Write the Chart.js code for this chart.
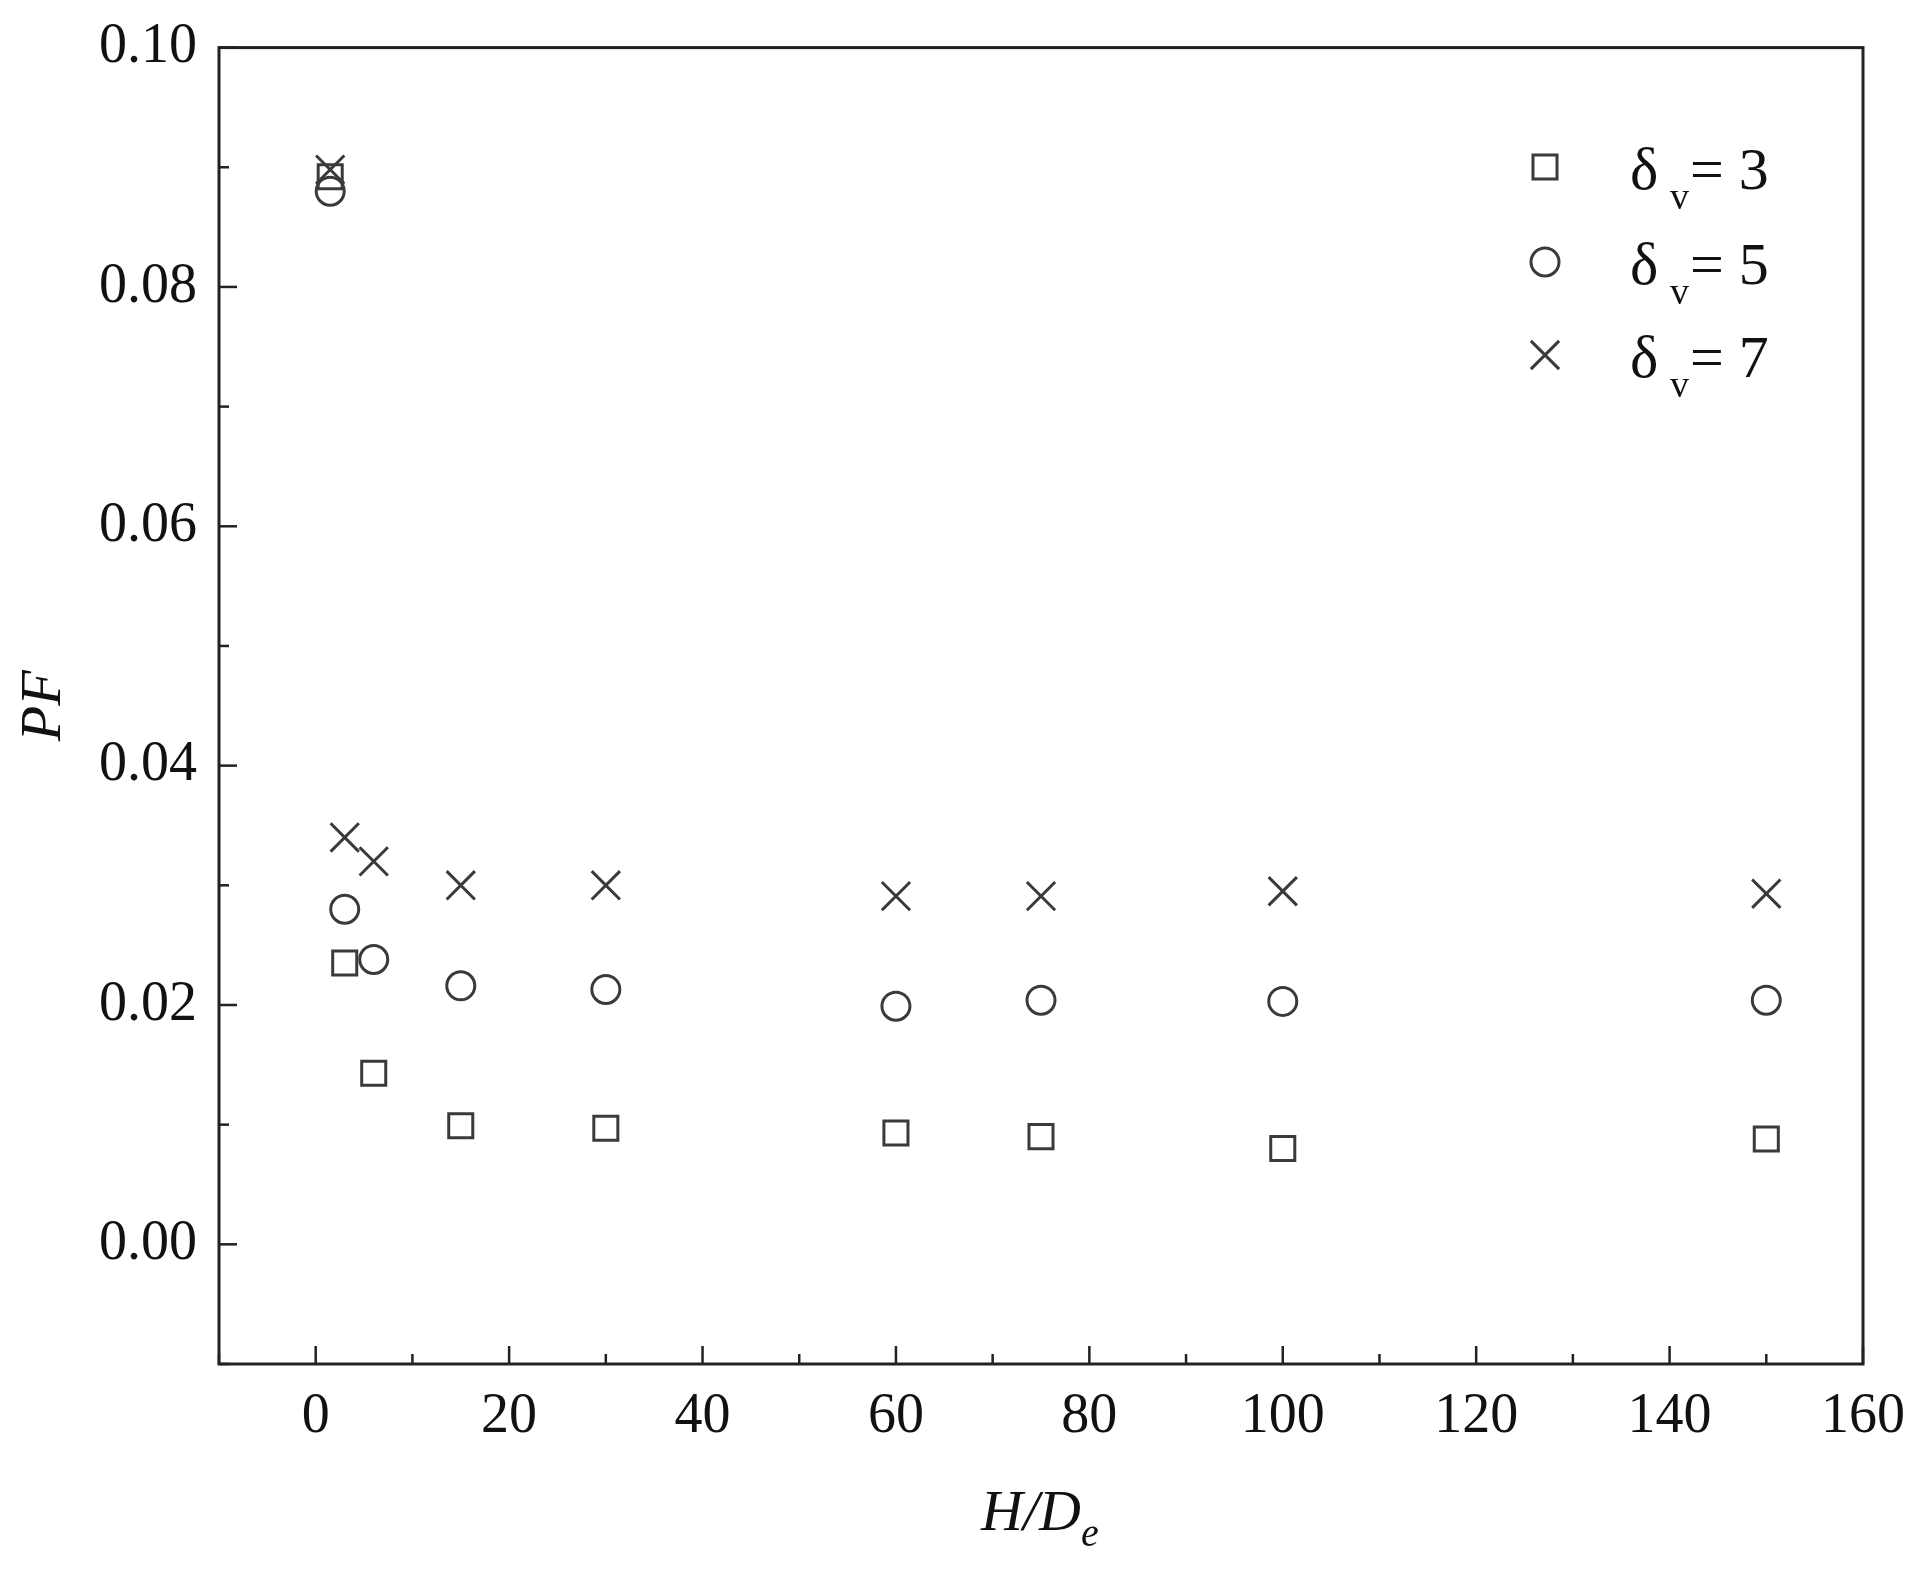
<!DOCTYPE html>
<html><head><meta charset="utf-8">
<script src="https://cdn.jsdelivr.net/npm/chart.js@4/dist/chart.umd.min.js"></script>
<style>html,body{margin:0;padding:0;background:#fff}#c{display:block}</style>
</head><body>
<canvas id="c" width="1917" height="1575"></canvas>
<script>
'use strict';
const hd = [1.5, 3, 6, 15, 30, 60, 75, 100, 150];
const pfD3 = [0.0892, 0.0235, 0.0143, 0.0099, 0.0097, 0.0093, 0.0090, 0.0080, 0.0088];
const pfD5 = [0.0880, 0.0280, 0.0238, 0.0216, 0.0213, 0.0199, 0.0204, 0.0203, 0.0204];
const pfD7 = [0.0898, 0.0340, 0.0320, 0.0300, 0.0300, 0.0291, 0.0291, 0.0295, 0.0293];
const legendNums = ['3', '5', '7'];
const ink = '#3a3a3a';
const serif = '"Liberation Serif", "DejaVu Serif", serif';

const pts = (ys) => hd.map((x, i) => ({x: x, y: ys[i]}));
const series = [
  {data: pts(pfD3), pointStyle: 'rect', pointRadius: 17},
  {data: pts(pfD5), pointStyle: 'circle', pointRadius: 14},
  {data: pts(pfD7), pointStyle: 'crossRot', pointRadius: 20}
].map(s => Object.assign(s, {showLine: false, borderColor: ink, backgroundColor: 'transparent', pointBorderWidth: 3}));

// ticks inward, frame, axis titles, legend
const decor = {
  id: 'decor',
  afterDraw(chart) {
    const ctx = chart.ctx, a = chart.chartArea, xs = chart.scales.x, ys = chart.scales.y;
    ctx.save();
    ctx.strokeStyle = '#222'; ctx.lineWidth = 3;
    ctx.strokeRect(a.left, a.top, a.right - a.left, a.bottom - a.top);
    ctx.lineWidth = 2.5;
    for (let v = -10; v <= 160; v += 10) {
      const p = xs.getPixelForValue(v), len = (v % 20 === 0) ? 18 : 10;
      ctx.beginPath(); ctx.moveTo(p, a.bottom); ctx.lineTo(p, a.bottom - len); ctx.stroke();
    }
    for (let k = -1; k <= 10; k++) {
      const p = ys.getPixelForValue(k / 100), len = (k % 2 === 0) ? 18 : 10;
      ctx.beginPath(); ctx.moveTo(a.left, p); ctx.lineTo(a.left + len, p); ctx.stroke();
    }
    ctx.fillStyle = '#111';
    // x title H/De
    ctx.font = 'italic 58px ' + serif;
    ctx.textBaseline = 'alphabetic'; ctx.textAlign = 'left';
    const mid = (a.left + a.right) / 2;
    const w1 = ctx.measureText('H/D').width;
    ctx.fillText('H/D', mid - w1 / 2 - 10, 1530);
    ctx.font = 'italic 40px ' + serif;
    ctx.fillText('e', mid + w1 / 2 - 10, 1546);
    // y title PF
    ctx.save();
    ctx.translate(60, (a.top + a.bottom) / 2);
    ctx.rotate(-Math.PI / 2);
    ctx.font = 'italic 58px ' + serif; ctx.textAlign = 'center';
    ctx.fillText('PF', 0, 0);
    ctx.restore();
    // legend
    const rows = [167, 262, 355];
    rows.forEach((y, i) => {
      ctx.strokeStyle = ink; ctx.fillStyle = 'rgba(0,0,0,0)'; ctx.lineWidth = 3;
      Chart.helpers.drawPoint(ctx, {pointStyle: series[i].pointStyle, radius: series[i].pointRadius, rotation: 0, borderWidth: 3}, 1545, y);
      ctx.fillStyle = '#111'; ctx.textAlign = 'left'; ctx.textBaseline = 'alphabetic';
      ctx.font = '60px ' + serif;
      ctx.fillText('\u03b4', 1630, y + 22);
      ctx.font = '38px ' + serif;
      ctx.fillText('v', 1670, y + 42);
      ctx.font = '60px ' + serif;
      ctx.fillText('= ' + legendNums[i], 1690, y + 22);
    });
    ctx.restore();
  }
};

new Chart(document.getElementById('c'), {
  type: 'scatter',
  data: {datasets: series},
  options: {
    responsive: false, animation: false,
    layout: {padding: {top: 37, right: 43, left: 0, bottom: 0}},
    plugins: {legend: {display: false}, tooltip: {enabled: false}},
    scales: {
      x: {
        min: -10, max: 160,
        afterFit(s) { s.height = 211; },
        afterBuildTicks(s) { s.ticks = [0, 20, 40, 60, 80, 100, 120, 140, 160].map(v => ({value: v})); },
        grid: {display: false}, border: {display: false},
        ticks: {color: '#111', font: {family: serif, size: 56}, padding: 12, maxRotation: 0}
      },
      y: {
        min: -0.01, max: 0.10,
        afterFit(s) { s.width = 219; },
        afterBuildTicks(s) { s.ticks = [0, 0.02, 0.04, 0.06, 0.08, 0.10].map(v => ({value: v})); },
        grid: {display: false}, border: {display: false},
        ticks: {color: '#111', font: {family: serif, size: 56}, padding: 14, callback: v => v.toFixed(2)}
      }
    }
  },
  plugins: [decor]
});
</script>
</body></html>
